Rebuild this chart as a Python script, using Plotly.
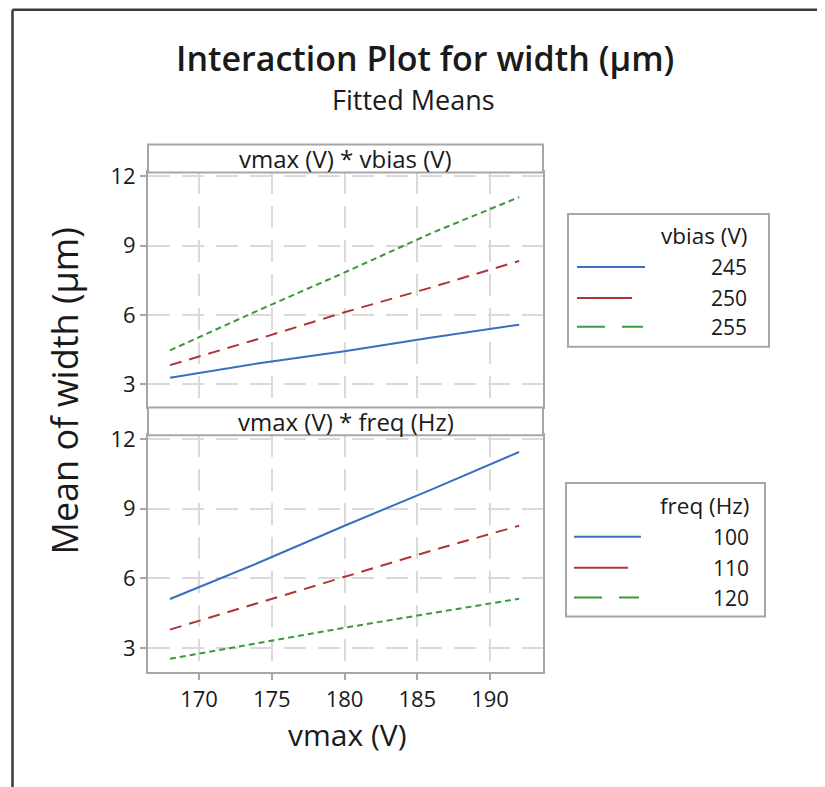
import plotly.graph_objects as go

# ---- data ----
vmax = [168, 174, 180, 186, 192]

vbias_levels = ["245", "250", "255"]
width_vbias_245 = [3.28, 3.90, 4.43, 5.03, 5.58]
width_vbias_250 = [3.83, 4.95, 6.12, 7.20, 8.34]
width_vbias_255 = [4.47, 6.18, 7.84, 9.55, 11.10]

freq_levels = ["100", "110", "120"]
width_freq_100 = [5.11, 6.65, 8.27, 9.84, 11.45]
width_freq_110 = [3.79, 4.93, 6.07, 7.20, 8.27]
width_freq_120 = [2.53, 3.20, 3.87, 4.50, 5.12]

x_ticks = [170, 175, 180, 185, 190]
y_ticks = [3, 6, 9, 12]

# ---- styling ----
W, H = 825, 787
OFF = 8  # page body margin
FONT = "Open Sans"
COLORS = ["#3a6fc0", "#b03636", "#3a9a3a"]
DASHES = ["solid", "12px,8px", "6px,4px"]
FRAME = "#a6a6a6"
GRID = "#dadada"
TXT = "#1a1a1a"


def px_x(p):
    return (p - OFF) / W


def px_y(p):
    q = (p - 10) / 0.989
    return 1 - (q - OFF) / H


fig = go.Figure()

top_series = [width_vbias_245, width_vbias_250, width_vbias_255]
bot_series = [width_freq_100, width_freq_110, width_freq_120]

for i, (name, ys) in enumerate(zip(vbias_levels, top_series)):
    fig.add_trace(go.Scatter(x=vmax, y=ys, mode="lines", name=name,
                             line=dict(color=COLORS[i], width=2, dash=DASHES[i]),
                             xaxis="x2", yaxis="y2", showlegend=False))
for i, (name, ys) in enumerate(zip(freq_levels, bot_series)):
    fig.add_trace(go.Scatter(x=vmax, y=ys, mode="lines", name=name,
                             line=dict(color=COLORS[i], width=2, dash=DASHES[i]),
                             xaxis="x", yaxis="y", showlegend=False))

xdom = [px_x(148), px_x(543)]
axis_common = dict(showline=True, linecolor=FRAME, linewidth=2, mirror=True,
                   ticks="outside", ticklen=6, tickcolor=FRAME, tickwidth=1.5,
                   showgrid=True, gridcolor=GRID, gridwidth=2, griddash="22px,12px",
                   zeroline=False, tickfont=dict(family=FONT, size=22, color=TXT))

fig.update_layout(
    width=W, height=H,
    margin=dict(l=0, r=0, t=0, b=0),
    paper_bgcolor="white", plot_bgcolor="white",
    xaxis=dict(domain=xdom, range=[166.49, 193.64], tickvals=x_ticks,
               anchor="y", **axis_common),
    yaxis=dict(domain=[px_y(673), px_y(435)], range=[1.95, 12.17], tickvals=y_ticks,
               anchor="x", **axis_common),
    xaxis2=dict(domain=xdom, range=[166.49, 193.64], tickvals=x_ticks,
                anchor="y2", showticklabels=False, matches="x", **axis_common),
    yaxis2=dict(domain=[px_y(407), px_y(171)], range=[2.0, 12.17], tickvals=y_ticks,
                anchor="x2", **axis_common),
    showlegend=False,
)

shapes = []
annotations = []

# outer frame (left and top edges)
shapes.append(dict(type="line", xref="paper", yref="paper", x0=px_x(12.5), x1=1.0,
                   y0=px_y(7.5), y1=px_y(7.5), line=dict(color="#3a3a3a", width=2.5)))
shapes.append(dict(type="line", xref="paper", yref="paper", x0=px_x(12.5), x1=px_x(12.5),
                   y0=px_y(7.5), y1=0.0, line=dict(color="#3a3a3a", width=2.5)))

# strip headers
for (y0, y1, label) in [(143, 171, "vmax (V) * vbias (V)"), (407, 435, "vmax (V) * freq (Hz)")]:
    shapes.append(dict(type="rect", xref="paper", yref="paper", x0=xdom[0], x1=xdom[1],
                       y0=px_y(y1), y1=px_y(y0), line=dict(color=FRAME, width=2),
                       fillcolor="white", layer="above"))
    annotations.append(dict(text=label, xref="paper", yref="paper",
                            x=(xdom[0] + xdom[1]) / 2, y=px_y((y0 + y1) / 2),
                            xanchor="center", yanchor="middle", showarrow=False,
                            font=dict(family=FONT, size=24, color=TXT)))

# titles
annotations.append(dict(text="Interaction Plot for width (µm)", xref="paper", yref="paper",
                        x=px_x(425), y=px_y(56), xanchor="center", yanchor="middle",
                        showarrow=False, font=dict(family=FONT, size=34, color=TXT, weight=600)))
annotations.append(dict(text="Fitted Means", xref="paper", yref="paper",
                        x=px_x(413), y=px_y(98), xanchor="center", yanchor="middle",
                        showarrow=False, font=dict(family=FONT, size=27, color=TXT)))
annotations.append(dict(text="Mean of width (µm)", xref="paper", yref="paper",
                        x=px_x(64), y=px_y(391), xanchor="center", yanchor="middle",
                        textangle=-90, showarrow=False,
                        font=dict(family=FONT, size=36, color=TXT)))
annotations.append(dict(text="vmax (V)", xref="paper", yref="paper",
                        x=px_x(347), y=px_y(735), xanchor="center", yanchor="middle",
                        showarrow=False, font=dict(family=FONT, size=30, color=TXT)))

# legends (manual keys)
legend_specs = [
    dict(box=(568, 212.7, 769, 346), title="vbias (V)", title_y=234.5, right=749,
         rows=[266, 297, 326], labels=vbias_levels, x0=577,
         ends=[645, 632, 643]),
    dict(box=(566, 483, 765, 617), title="freq (Hz)", title_y=505.5, right=751,
         rows=[537, 568, 598], labels=freq_levels, x0=574,
         ends=[641, 628, 639]),
]
legend_dashes = ["solid", "solid", "28px,17px"]
for spec in legend_specs:
    bx0, by0, bx1, by1 = spec["box"]
    shapes.append(dict(type="rect", xref="paper", yref="paper", x0=px_x(bx0), x1=px_x(bx1),
                       y0=px_y(by1), y1=px_y(by0), line=dict(color=FRAME, width=2),
                       fillcolor="white"))
    annotations.append(dict(text=spec["title"], xref="paper", yref="paper",
                            x=px_x(spec["right"]), y=px_y(spec["title_y"]),
                            xanchor="right", yanchor="middle", showarrow=False,
                            font=dict(family=FONT, size=22.5, color=TXT)))
    for i, (ry, lab) in enumerate(zip(spec["rows"], spec["labels"])):
        shapes.append(dict(type="line", xref="paper", yref="paper",
                           x0=px_x(spec["x0"]), x1=px_x(spec["ends"][i]),
                           y0=px_y(ry), y1=px_y(ry),
                           line=dict(color=COLORS[i], width=2, dash=legend_dashes[i])))
        annotations.append(dict(text=lab, xref="paper", yref="paper",
                                x=px_x(spec["right"]), y=px_y(ry),
                                xanchor="right", yanchor="middle", showarrow=False,
                                font=dict(family=FONT, size=21, color=TXT)))

fig.update_layout(shapes=shapes, annotations=annotations)
fig.write_html("out.html")
